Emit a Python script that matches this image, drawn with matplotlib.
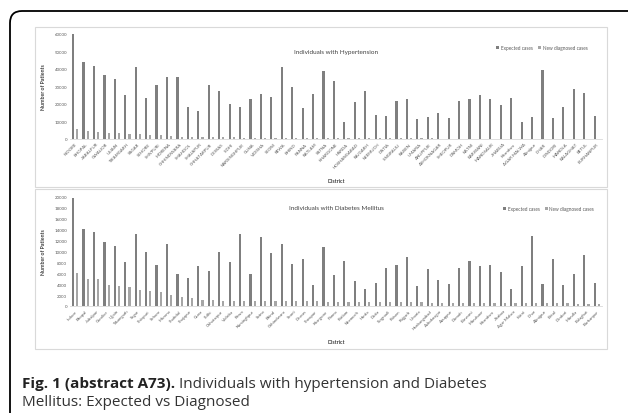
import numpy as np
import matplotlib
matplotlib.use("Agg")
import matplotlib.pyplot as plt
from matplotlib.patches import Rectangle, FancyBboxPatch

# Hypertension panel
ht_districts = ["INDORE", "BHOPAL", "JABALPUR", "GWALIOR", "UJJAIN", "TIKAMGARH", "SAGAR",
                "SEHORE", "SHIVPURI", "MORENA", "CHHINDWARA", "SHAHDOL", "SHAJAPUR",
                "CHHATARPUR", "DEWAS", "SIDHI", "NARSINGHPUR", "GUNA", "VIDISHA", "SEONI",
                "REWA", "BHIND", "PANNA", "RATLAM", "SATNA", "KHARGONE", "HARDA",
                "HOSHANGABAD", "RAJGARH", "NEEMUCH", "DATIA", "SINGRAULI", "RAISEN", "UMARIA",
                "ANUPPUR", "ASHOKNAGAR", "SHEOPUR", "DAMOH", "KATNI", "BARWANI", "MANDSAUR",
                "JHABUA", "Khandwa", "AGAR MALWA", "Alirajpur", "DHAR", "DINDORI", "MANDLA",
                "BALAGHAT", "BETUL", "BURHANPUR"]
ht_expected = [60000, 43800, 41700, 36600, 34100, 25300, 41100, 23200, 30900, 35200, 35200,
               18500, 16000, 30900, 27200, 20200, 18500, 22900, 25500, 24000, 41300, 29900,
               17500, 25500, 39000, 33300, 9900, 21000, 27600, 13700, 13300, 21700, 22900,
               11400, 12400, 14900, 12000, 21700, 22900, 25300, 22700, 19200, 23200, 9700,
               12800, 39600, 12000, 18300, 28800, 26300, 13000]
ht_new = [5700, 4800, 4200, 3400, 3200, 2900, 2700, 2300, 2200, 1700, 1400, 1200, 1100, 1000,
          900, 900, 850, 800, 700, 650, 600, 600, 550, 500, 480, 450, 420, 400, 380, 360, 350,
          330, 320, 300, 290, 280, 270, 260, 250, 240, 230, 220, 200, 190, 180, 170, 160, 150,
          140, 130, 120]

# Diabetes panel
dm_districts = ["Indore", "Bhopal", "Jabalpur", "Gwalior", "Ujjain", "Tikamgarh", "Sagar",
                "Shivpuri", "Sehore", "Morena", "Shahdol", "Shajapur", "Guna", "Sidhi",
                "Chhatarpur", "Vidisha", "Rewa", "Narsinghpur", "Satna", "Bhind", "Chhindwara",
                "Seoni", "Dewas", "Sheopur", "Khargone", "Panna", "Ratlam", "Neemuch", "Harda",
                "Datia", "Singrauli", "Raisen", "Rajgarh", "Umaria", "Hoshangabad",
                "Ashoknagar", "Anuppur", "Damoh", "Barwani", "Mandsaur", "Khandwa", "Jhabua",
                "Agar Malwa", "Katni", "Dhar", "Alirajpur", "Betul", "Dindori", "Mandla",
                "Balaghat", "Burhanpur"]
dm_expected = [19800, 14200, 13500, 11800, 11000, 8100, 13300, 10000, 7500, 11300, 5900, 5200,
               7400, 6500, 10000, 8100, 13300, 5900, 12600, 9700, 11300, 7700, 8700, 3900,
               10800, 5700, 8300, 4500, 3200, 4300, 7000, 7500, 9000, 3700, 6800, 4800, 4000,
               7000, 8300, 7300, 7500, 6200, 3200, 7400, 12800, 4000, 8600, 3900, 5800, 9300,
               4200]
dm_new = [6100, 5000, 5000, 3800, 3700, 3400, 2900, 2700, 2600, 2000, 1650, 1400, 1050, 1050,
          1000, 1000, 1000, 950, 950, 950, 950, 950, 950, 850, 800, 780, 760, 740, 720, 700,
          690, 680, 670, 650, 640, 620, 600, 590, 580, 560, 550, 540, 520, 510, 500, 480, 470,
          460, 450, 440, 420]

C_EXP = "#7f7f7f"
C_NEW = "#a6a6a6"
TXT = "#595959"
plt.rcParams["font.family"] = ["Lato", "DejaVu Sans"]

W, H = 628, 414
fig = plt.figure(figsize=(W / 100, H / 100), dpi=100)


def px(x0, y0, x1, y1):
    # pixel box (top-left origin) -> figure fraction rect
    return [x0 / W, 1 - y1 / H, (x1 - x0) / W, (y1 - y0) / H]


def panel(box, rect, names, exp, new, ymax, step, title, title_y, leg_y, leg_x, xlab_y):
    fig.patches.append(Rectangle((box[0], box[1]), box[2], box[3], transform=fig.transFigure,
                                 fill=False, ec="#d9d9d9", lw=0.8))
    ax = fig.add_axes(rect)
    x = np.arange(len(names))
    ax.bar(x - 0.2, exp, width=0.21, color=C_EXP, label="Expected cases")
    ax.bar(x + 0.2, new, width=0.21, color=C_NEW, label="New diagnosed cases")
    ax.set_xlim(-0.5, len(names) - 0.5)
    ax.set_ylim(0, ymax)
    ax.set_yticks(np.arange(0, ymax + 1, step))
    ax.set_xticks(x)
    ax.set_xticklabels(names, rotation=45, ha="right", rotation_mode="anchor")
    ax.tick_params(axis="both", length=0, labelsize=3.2, colors=TXT, pad=2)
    for s in ["top", "right", "left"]:
        ax.spines[s].set_visible(False)
    ax.spines["bottom"].set_color("#d9d9d9")
    ax.spines["bottom"].set_linewidth(0.6)
    ax.set_ylabel("Number of Patients", fontsize=3.8, fontweight="bold", color="#404040")
    ax.yaxis.set_label_coords(-0.045, 0.5)
    ax.set_xlabel("District", fontsize=3.8, fontweight="bold", color="#404040")
    ax.xaxis.set_label_coords(0.5, xlab_y)
    ax.text(0.5, title_y, title, transform=ax.transAxes, ha="center", va="center",
            fontsize=4.6, color="#404040")
    ax.legend(loc="center", bbox_to_anchor=(leg_x, leg_y), ncol=2, frameon=False,
              fontsize=3.4, handlelength=0.6, handleheight=0.6, handletextpad=0.3,
              columnspacing=1.2, labelcolor=TXT)
    return ax


panel(px(35, 28, 607, 188), px(70, 35, 602, 140), ht_districts, ht_expected, ht_new,
      60000, 10000, "Individuals with Hypertension", 0.838, 0.867, 0.887, -0.37)
panel(px(35, 190, 607, 350), px(70, 198, 602, 307), dm_districts, dm_expected, dm_new,
      20000, 2000, "Individuals with Diabetes Mellitus", 0.9, 0.89, 0.9, -0.30)

# outer article frame
frame = FancyBboxPatch((0.10, -1.0), 7.0, 4.02 + 1.0, boxstyle="round,pad=0,rounding_size=0.12",
                       transform=fig.dpi_scale_trans, fill=False, ec="black", lw=1.3)
fig.patches.append(frame)

# caption
cap_font = ["Open Sans", "DejaVu Sans"]
t1 = fig.text(22 / W, 1 - 388 / H, "Fig. 1 (abstract A73).", fontsize=11, fontweight="bold",
              family=cap_font, va="baseline", color="#222222")
fig.canvas.draw()
bb = t1.get_window_extent()
fig.text((bb.x1 + 4) / W, 1 - 388 / H, "Individuals with hypertension and Diabetes",
         fontsize=11, family=cap_font, va="baseline", color="#333333")
fig.text(22 / W, 1 - 406 / H, "Mellitus: Expected vs Diagnosed", fontsize=11,
         family=cap_font, va="baseline", color="#333333")

fig.savefig("out.png", dpi=100)
